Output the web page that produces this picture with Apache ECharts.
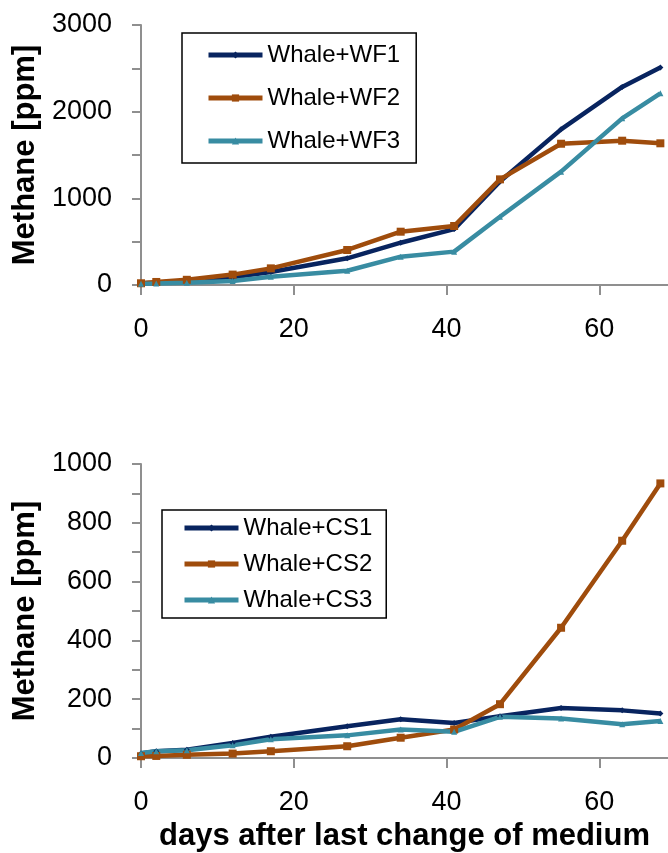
<!DOCTYPE html>
<html>
<head>
<meta charset="utf-8">
<script src="https://cdn.jsdelivr.net/npm/echarts@6/dist/echarts.min.js"></script>
<style>
  html, body { margin: 0; padding: 0; background: #ffffff; }
  #chart { width: 668px; height: 853px; }
</style>
</head>
<body>
<div id="chart"></div>
<script>
// Sampling days after the last change of medium
const days = [0, 2, 6, 12, 17, 27, 34, 41, 47, 55, 63, 68];

// Methane [ppm], whale + wood-fall substrates
const wf1 = [20, 25, 48, 90, 150, 308, 488, 645, 1195, 1796, 2285, 2510];
const wf2 = [20, 35, 60, 120, 192, 404, 615, 681, 1219, 1630, 1665, 1635];
const wf3 = [15, 18, 25, 46, 96, 165, 327, 385, 788, 1308, 1923, 2212];

// Methane [ppm], whale + cold-seep substrates
const cs1 = [15, 23, 28, 51, 72, 108, 132, 119, 142, 170, 162, 151];
const cs2 = [6, 7, 11, 15, 23, 40, 69, 97, 183, 443, 739, 934];
const cs3 = [17, 23, 26, 43, 64, 77, 97, 89, 140, 134, 115, 126];

const xTicks = [0, 20, 40, 60];
const topYTicks = [0, 1000, 2000, 3000];
const bottomYTicks = [0, 200, 400, 600, 800, 1000];

const FONT = 'Liberation Sans';
const NAVY = '#08245f';
const BROWN = '#9f4c0c';
const TEAL = '#388ca2';
const AXIS = '#8f8f8f';

const pairs = (ys) => days.map((d, i) => [d, ys[i]]);

function xAxisCfg(gridIndex, withName) {
  const cfg = {
    type: 'value', gridIndex: gridIndex,
    min: 0, max: 69, interval: 20,
    axisLine: { show: true, onZero: false, lineStyle: { color: AXIS, width: 2 } },
    axisTick: { show: true, length: 10, lineStyle: { color: AXIS, width: 2 } },
    splitLine: { show: false },
    axisLabel: {
      fontFamily: FONT, fontSize: 27, color: '#000', margin: 31,
      showMaxLabel: false,
      formatter: (v) => (xTicks.indexOf(v) >= 0 ? String(v) : '')
    }
  };
  if (withName) {
    cfg.name = 'days after last change of medium';
    cfg.nameLocation = 'middle';
    cfg.nameGap = 63;
    cfg.nameTextStyle = { fontFamily: FONT, fontSize: 31, fontWeight: 'bold', color: '#000' };
  }
  return cfg;
}

function yAxisCfg(gridIndex, max, interval, labels) {
  return {
    type: 'value', gridIndex: gridIndex,
    min: 0, max: max, interval: interval,
    name: 'Methane [ppm]', nameLocation: 'middle', nameGap: 91,
    nameTextStyle: { fontFamily: FONT, fontSize: 31, fontWeight: 'bold', color: '#000' },
    axisLine: { show: true, lineStyle: { color: AXIS, width: 2 } },
    axisTick: { show: true, length: 9, lineStyle: { color: AXIS, width: 2 } },
    splitLine: { show: false },
    axisLabel: {
      fontFamily: FONT, fontSize: 27, color: '#000', margin: 29,
      formatter: (v) => (labels.indexOf(v) >= 0 ? String(v) : '')
    }
  };
}

function lineSeries(name, ys, color, symbol, size, axisIndex) {
  return {
    type: 'line', name: name,
    xAxisIndex: axisIndex, yAxisIndex: axisIndex,
    data: pairs(ys),
    symbol: symbol, symbolSize: size,
    lineStyle: { color: color, width: 4.5 },
    itemStyle: { color: color },
    z: 3
  };
}

function legendCfg(names, left, top, padding, gap) {
  return {
    data: names, orient: 'vertical', left: left, top: top,
    padding: padding, itemGap: gap,
    itemWidth: 54, itemHeight: 9,
    borderColor: '#000', borderWidth: 1.5,
    backgroundColor: '#fff',
    selectedMode: false,
    lineStyle: { width: 5 },
    textStyle: { fontFamily: FONT, fontSize: 24, color: '#000', lineHeight: 23, padding: [0, 0, 0, 0] }
  };
}

const chart = echarts.init(document.getElementById('chart'), null, { renderer: 'canvas' });
chart.setOption({
  animation: false,
  backgroundColor: '#ffffff',
  grid: [
    { left: 141, right: 0, top: 25, height: 260 },
    { left: 141, right: 0, top: 464, height: 294 }
  ],
  xAxis: [xAxisCfg(0, false), xAxisCfg(1, true)],
  yAxis: [
    yAxisCfg(0, 3000, 500, topYTicks),
    yAxisCfg(1, 1000, 100, bottomYTicks)
  ],
  legend: [
    legendCfg(['Whale+WF1', 'Whale+WF2', 'Whale+WF3'], 182, 33, [10, 16, 10, 24], 19),
    legendCfg(['Whale+CS1', 'Whale+CS2', 'Whale+CS3'], 162, 510, [6, 14, 6, 20], 12)
  ],
  series: [
    lineSeries('Whale+WF1', wf1, NAVY, 'diamond', 6, 0),
    lineSeries('Whale+WF2', wf2, BROWN, 'rect', 8, 0),
    lineSeries('Whale+WF3', wf3, TEAL, 'triangle', 6, 0),
    lineSeries('Whale+CS1', cs1, NAVY, 'diamond', 6, 1),
    lineSeries('Whale+CS2', cs2, BROWN, 'rect', 8, 1),
    lineSeries('Whale+CS3', cs3, TEAL, 'triangle', 6, 1)
  ]
});
</script>
</body>
</html>
